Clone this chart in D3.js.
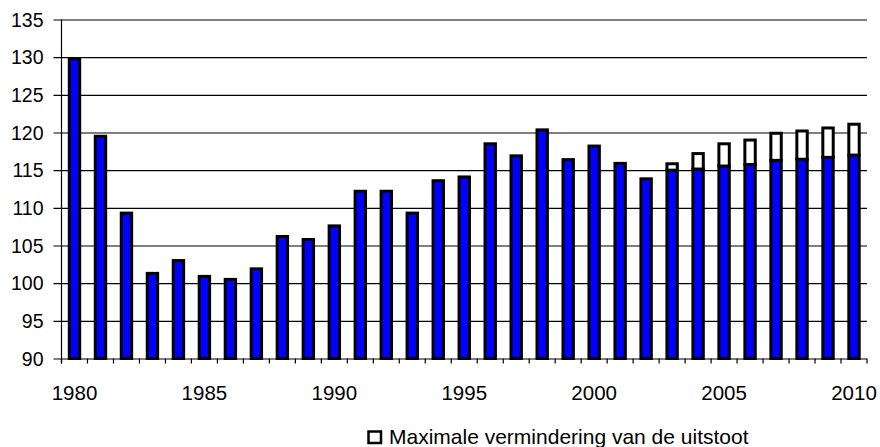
<!DOCTYPE html>
<html>
<head>
<meta charset="utf-8">
<script src="https://cdn.jsdelivr.net/npm/d3@7"></script>
<style>
  html, body { margin: 0; padding: 0; background: #ffffff; }
  svg { display: block; font-family: "Liberation Sans", Arial, sans-serif; }
</style>
</head>
<body>
<svg id="chart" width="880" height="447"></svg>
<script>
const years = [1980,1981,1982,1983,1984,1985,1986,1987,1988,1989,1990,1991,1992,1993,1994,1995,1996,1997,1998,1999,2000,2001,2002,2003,2004,2005,2006,2007,2008,2009,2010];
const emissions = [129.8,119.5,109.3,101.3,103.0,100.9,100.5,101.9,106.2,105.8,107.6,112.2,112.2,109.3,113.6,114.1,118.5,116.9,120.35,116.4,118.2,115.9,113.85,115.0,115.15,115.55,115.75,116.3,116.45,116.7,117.0];
const reductionYears = [2003,2004,2005,2006,2007,2008,2009,2010];
const reductionValues = [0.85,2.05,2.95,3.25,3.6,3.75,3.9,4.1];
const yTicks = [90,95,100,105,110,115,120,125,130,135];
const xLabelYears = [1980,1985,1990,1995,2000,2005,2010];
const legendLabel = "Maximale vermindering van de uitstoot";

(function () {
const svg = d3.select("#chart");
const pLeft = 61.5, pRight = 867, pTop = 19.5, pBottom = 358.5;

const x = d3.scaleBand().domain(years).range([pLeft, pRight]).padding(0);
const y = d3.scaleLinear().domain([90, 135]).range([pBottom, pTop]);
const barW = x.bandwidth() * 0.4;

// gridlines + y ticks
const yAxis = d3.axisLeft(y).tickValues(yTicks).tickSize(-(pRight - pLeft)).tickSizeOuter(0).tickPadding(0).tickFormat(d3.format("d"));
const gy = svg.append("g").attr("transform", `translate(${pLeft},0)`).call(yAxis);
gy.select(".domain").remove();
gy.selectAll(".tick line").attr("x1", -8).attr("stroke", "#000").attr("stroke-width", 1.2);
gy.selectAll(".tick text").attr("x", -18).attr("dy", "0.35em").attr("font-size", "19.5px").attr("fill", "#000").attr("font-family", "Liberation Sans, Arial, sans-serif");

// y axis line
svg.append("line").attr("x1", pLeft).attr("x2", pLeft).attr("y1", pTop).attr("y2", pBottom + 5)
  .attr("stroke", "#000").attr("stroke-width", 1.2);

// x axis ticks at category boundaries
const boundaries = years.map(d => x(d)).concat([x(years[years.length - 1]) + x.step()]);
svg.append("g").selectAll("line").data(boundaries).join("line")
  .attr("x1", d => d).attr("x2", d => d).attr("y1", pBottom).attr("y2", pBottom + 5)
  .attr("stroke", "#000").attr("stroke-width", 1.2);

// x labels
svg.append("g").selectAll("text").data(xLabelYears).join("text")
  .attr("x", d => x(d) + x.bandwidth() / 2)
  .attr("y", 400)
  .attr("text-anchor", "middle")
  .attr("font-size", "20.5px")
  .attr("fill", "#000")
  .text(d => d);

// blue bars
svg.append("g").selectAll("rect").data(years).join("rect")
  .attr("x", d => x(d) + x.bandwidth() / 2 - barW / 2)
  .attr("width", barW)
  .attr("y", (d, i) => y(emissions[i]))
  .attr("height", (d, i) => y(90) - y(emissions[i]))
  .attr("fill", "#0000ff")
  .attr("stroke", "#000")
  .attr("stroke-width", 3);

// white reduction segments
svg.append("g").selectAll("rect").data(reductionYears).join("rect")
  .attr("x", d => x(d) + x.bandwidth() / 2 - barW / 2)
  .attr("width", barW)
  .attr("y", (d, i) => y(emissions[years.indexOf(d)] + reductionValues[i]))
  .attr("height", (d, i) => y(emissions[years.indexOf(d)]) - y(emissions[years.indexOf(d)] + reductionValues[i]))
  .attr("fill", "#ffffff")
  .attr("stroke", "#000")
  .attr("stroke-width", 3);

// legend
const lg = svg.append("g");
lg.append("rect").attr("x", 368.5).attr("y", 431.5).attr("width", 12.5).attr("height", 11.5)
  .attr("fill", "#fff").attr("stroke", "#000").attr("stroke-width", 2.5);
lg.append("text").attr("x", 389).attr("y", 444).attr("font-size", "21px").attr("fill", "#000").text(legendLabel);
})();
</script>
</body>
</html>
